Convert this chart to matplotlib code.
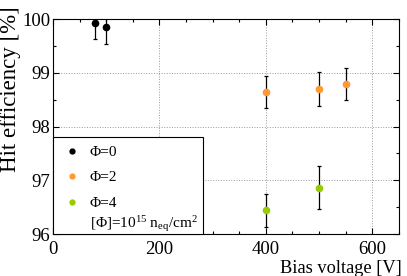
import matplotlib
matplotlib.use('Agg')
import matplotlib.pyplot as plt
import matplotlib.ticker as plticker
from matplotlib.patches import Rectangle

## DATA
bias_phi0 = [80, 100]
eff_phi0 = [99.93, 99.85]
err_phi0 = [0.30, 0.32]

bias_phi2 = [400, 500, 550]
eff_phi2 = [98.64, 98.70, 98.79]
err_phi2 = [0.30, 0.31, 0.30]

bias_phi4 = [400, 500]
eff_phi4 = [96.44, 96.86]
err_phi4 = [0.30, 0.40]

labels = ["Φ=0", "Φ=2", "Φ=4"]
colors = ["black", "#ff9933", "#99cc00"]
unit_note = r"[Φ]=$\mathrm{10^{15}\ n_{eq}/cm^{2}}$"

## STYLE
plt.rcParams['font.family'] = ['Liberation Serif', 'DejaVu Serif']
plt.rcParams['mathtext.fontset'] = 'custom'
plt.rcParams['mathtext.rm'] = 'Liberation Serif'
plt.rcParams['mathtext.it'] = 'Liberation Serif:italic'

fig = plt.figure(figsize=[4.07, 2.76], dpi=100)
ax = fig.add_axes([0.130, 0.152, 0.850, 0.779])

series = [(bias_phi0, eff_phi0, err_phi0), (bias_phi2, eff_phi2, err_phi2), (bias_phi4, eff_phi4, err_phi4)]
for (x, y, e), c in zip(series, colors):
    ax.errorbar(x, y, yerr=e, fmt='none', ecolor='black', elinewidth=0.9, capsize=1.2, capthick=0.9, zorder=3)
    ax.plot(x, y, 'o', color=c, markersize=4.5, zorder=4)

ax.set_xlim(0, 650)
ax.set_ylim(96, 100)

ax.xaxis.set_major_locator(plticker.MultipleLocator(200))
ax.xaxis.set_minor_locator(plticker.MultipleLocator(50))
ax.yaxis.set_major_locator(plticker.MultipleLocator(1))
ax.yaxis.set_minor_locator(plticker.MultipleLocator(0.5))
ax.yaxis.set_major_formatter(plticker.FormatStrFormatter('%g'))

ax.tick_params(which='both', direction='in', top=True, right=True, labelsize=13.5)
ax.tick_params(which='major', length=4.5, width=0.8)
ax.tick_params(which='minor', length=2.5, width=0.8)
ax.tick_params(axis='x', pad=5)
ax.tick_params(axis='y', pad=2)

ax.grid(True, which='major', linestyle=':', color='#999999', linewidth=0.7)

ax.set_xlabel("Bias voltage [V]", fontsize=13.2, loc='right')
ax.set_ylabel("Hit efficiency [%]", fontsize=16.5, loc='top')
ax.xaxis.set_label_coords(1.009, -0.12)
ax.yaxis.set_label_coords(-0.092, 1.06)

# legend box drawn by hand (ROOT-like layout)
ax.add_patch(Rectangle((0, 0), 0.434, 0.451, transform=ax.transAxes, facecolor='white',
                       edgecolor='black', linewidth=0.8, zorder=5, clip_on=False))
row_mark = [0.387, 0.270, 0.150]
row_base = [0.363, 0.245, 0.127]
for lab, c, ym, yb in zip(labels, colors, row_mark, row_base):
    ax.plot([0.055], [ym], 'o', color=c, markersize=3.5, transform=ax.transAxes, zorder=6, clip_on=False)
    ax.text(0.107, yb, lab, transform=ax.transAxes, fontsize=11, va='baseline', ha='left', zorder=6)
ax.text(0.107, 0.028, unit_note, transform=ax.transAxes, fontsize=11, va='baseline', ha='left', zorder=6)

plt.savefig('out.png', dpi=100)
